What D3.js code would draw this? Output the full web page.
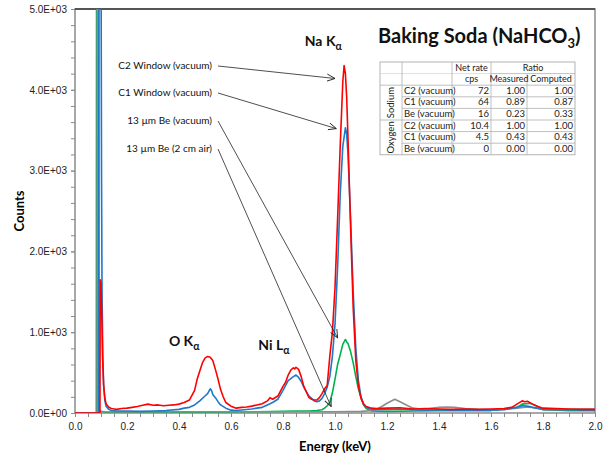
<!DOCTYPE html>
<html lang="en">
<head>
<meta charset="utf-8">
<script src="https://cdn.jsdelivr.net/npm/d3@7"></script>
<style>
  body { margin: 0; background: #fff; }
  svg { font-family: Lato, "Open Sans", sans-serif; }
  .tick text { font-size: 10px; fill: #222; }
  .line { fill: none; stroke-width: 1.6; stroke-linejoin: round; }
</style>
</head>
<body>
<div id="chart"></div>
<script>
// spectra: [energy keV, counts]
var c2Vacuum = [[0,0],[0.096,0],[0.097,1650],[0.1,1620],[0.103,1200],[0.106,700],[0.11,350],[0.115,180],[0.12,110],[0.13,70],[0.14,55],[0.15,50],[0.16,45],[0.18,55],[0.2,60],[0.22,70],[0.24,80],[0.26,95],[0.28,110],[0.3,95],[0.32,100],[0.34,90],[0.36,95],[0.38,100],[0.4,110],[0.42,130],[0.44,160],[0.46,280],[0.47,420],[0.48,520],[0.49,620],[0.5,680],[0.51,700],[0.52,690],[0.53,650],[0.54,540],[0.55,420],[0.56,290],[0.57,200],[0.58,130],[0.6,85],[0.62,60],[0.64,70],[0.66,75],[0.68,85],[0.7,100],[0.72,115],[0.74,150],[0.75,190],[0.76,170],[0.78,210],[0.8,330],[0.81,380],[0.82,470],[0.83,530],[0.84,560],[0.845,545],[0.85,565],[0.86,540],[0.87,450],[0.88,330],[0.89,260],[0.9,190],[0.91,170],[0.92,160],[0.93,160],[0.94,190],[0.95,240],[0.96,300],[0.97,340],[0.98,700],[0.99,1000],[1.0,1550],[1.01,2400],[1.02,3300],[1.03,4100],[1.035,4300],[1.04,4200],[1.045,3900],[1.05,3400],[1.06,2300],[1.07,1300],[1.08,650],[1.09,330],[1.1,180],[1.11,110],[1.12,80],[1.14,60],[1.16,55],[1.2,60],[1.25,65],[1.3,50],[1.35,55],[1.4,50],[1.45,45],[1.5,50],[1.55,45],[1.6,50],[1.65,55],[1.68,70],[1.7,110],[1.72,150],[1.73,140],[1.74,145],[1.76,110],[1.78,80],[1.8,60],[1.85,55],[1.9,50],[1.95,45],[2.0,45]];

var c1Vacuum = [[0,0],[0.091,0],[0.092,6000],[0.1,6000],[0.102,3000],[0.104,1500],[0.107,700],[0.11,350],[0.115,150],[0.12,80],[0.13,45],[0.14,30],[0.16,25],[0.2,25],[0.25,20],[0.3,25],[0.35,30],[0.4,45],[0.42,60],[0.44,70],[0.46,100],[0.48,150],[0.5,210],[0.51,240],[0.52,300],[0.525,280],[0.53,230],[0.54,190],[0.55,140],[0.56,100],[0.58,60],[0.6,35],[0.62,30],[0.65,40],[0.68,50],[0.7,60],[0.72,70],[0.74,100],[0.76,130],[0.78,170],[0.8,280],[0.82,400],[0.84,450],[0.85,470],[0.86,440],[0.87,390],[0.88,320],[0.89,260],[0.9,210],[0.91,180],[0.92,150],[0.93,140],[0.94,150],[0.95,180],[0.96,240],[0.97,320],[0.98,450],[0.99,700],[1.0,1100],[1.01,1800],[1.02,2700],[1.03,3300],[1.04,3530],[1.045,3450],[1.05,3200],[1.06,2400],[1.07,1500],[1.08,800],[1.09,400],[1.1,200],[1.11,110],[1.12,70],[1.14,45],[1.16,40],[1.2,45],[1.25,50],[1.3,40],[1.35,35],[1.4,40],[1.45,35],[1.5,35],[1.6,35],[1.65,40],[1.7,70],[1.72,90],[1.74,85],[1.76,70],[1.8,45],[1.9,40],[2.0,35]];

var beVacuum = [[0,0],[0.082,0],[0.083,6000],[0.088,6000],[0.089,30],[0.1,20],[0.12,10],[0.2,8],[0.3,10],[0.4,8],[0.5,10],[0.6,12],[0.7,15],[0.8,20],[0.85,25],[0.9,25],[0.93,30],[0.95,40],[0.96,60],[0.97,90],[0.98,130],[0.99,250],[1.0,420],[1.01,600],[1.02,720],[1.03,850],[1.04,910],[1.045,880],[1.05,860],[1.06,760],[1.07,620],[1.08,450],[1.09,300],[1.1,190],[1.11,100],[1.12,55],[1.14,25],[1.2,20],[1.3,25],[1.4,30],[1.5,30],[1.6,30],[1.7,70],[1.72,110],[1.75,120],[1.78,80],[1.8,40],[1.9,30],[2.0,30]];

var beAir = [[0,0],[0.085,0],[0.086,6000],[0.091,6000],[0.093,40],[0.1,15],[0.2,12],[0.4,15],[0.6,15],[0.8,15],[1.0,15],[1.1,20],[1.15,30],[1.18,80],[1.2,120],[1.23,170],[1.25,140],[1.28,90],[1.3,60],[1.33,50],[1.36,55],[1.4,70],[1.43,75],[1.46,70],[1.5,55],[1.55,45],[1.6,40],[1.65,45],[1.7,60],[1.74,75],[1.78,60],[1.8,45],[1.85,40],[1.9,45],[1.95,50],[2.0,50]];

// draw order: green, gray, blue, red
var seriesColors = ["#00b050", "#8c8c8c", "#1f78c8", "#ff0000"];
var seriesData = [beVacuum, beAir, c1Vacuum, c2Vacuum];
// label rows (top to bottom) and the [energy, counts] point each arrow ends at
var labelOrder = ["C2 Window (vacuum)", "C1 Window (vacuum)", "13 \u00b5m Be (vacuum)", "13 \u00b5m Be (2 cm air)"];
var arrowTargets = [[1.0, 4140], [1.005, 3520], [1.01, 930], [0.985, 80]];

var xTicks = [0, 0.2, 0.4, 0.6, 0.8, 1.0, 1.2, 1.4, 1.6, 1.8, 2.0];
var yTicks = [0, 1000, 2000, 3000, 4000, 5000];

// table
var tableElements = ["Sodium", "Oxygen"];
var tableRows = ["C2 (vacuum)", "C1 (vacuum)", "Be (vacuum)", "C2 (vacuum)", "C1 (vacuum)", "Be (vacuum)"];
var netRate = ["72", "64", "16", "10.4", "4.5", "0"];
var measured = ["1.00", "0.89", "0.23", "1.00", "0.43", "0.00"];
var computed = ["1.00", "0.87", "0.33", "1.00", "0.43", "0.00"];

var width = 605, height = 460;
var plot = {left: 75, right: 595, top: 9, bottom: 413};

var svg = d3.select("#chart").append("svg")
  .attr("width", width).attr("height", height);

var x = d3.scaleLinear().domain([0, 2]).range([plot.left, plot.right]);
var y = d3.scaleLinear().domain([0, 5000]).range([plot.bottom, plot.top]);

svg.append("defs").append("clipPath").attr("id", "clip")
  .append("rect").attr("x", plot.left).attr("y", plot.top)
  .attr("width", plot.right - plot.left).attr("height", plot.bottom - plot.top);

// frame
svg.append("rect")
  .attr("x", plot.left).attr("y", plot.top)
  .attr("width", plot.right - plot.left).attr("height", plot.bottom - plot.top)
  .attr("fill", "none").attr("stroke", "#8a8a8a").attr("stroke-width", 1.5);
svg.append("line")
  .attr("x1", plot.left).attr("x2", plot.right).attr("y1", plot.top).attr("y2", plot.top)
  .attr("stroke", "#3a3a3a").attr("stroke-width", 1.5);

// axes
var fmtY = function(d) { return d === 0 ? "0.0E+00" : (d / 1000).toFixed(1) + "E+03"; };
var greyTicks = function(g) { g.select(".domain").remove(); g.selectAll("line").attr("stroke", "#8a8a8a"); };

svg.append("g").attr("transform", "translate(" + plot.left + ",0)")
  .call(d3.axisLeft(y).tickValues(d3.range(0, 5001, 200)).tickSize(4).tickFormat(""))
  .call(greyTicks);
svg.append("g").attr("transform", "translate(" + plot.left + ",0)")
  .call(d3.axisLeft(y).tickValues(yTicks).tickSize(4).tickPadding(4).tickFormat(fmtY))
  .call(greyTicks);

svg.append("g").attr("transform", "translate(0," + plot.bottom + ")")
  .call(d3.axisBottom(x).tickValues(d3.range(0, 41).map(function(i) { return i * 0.05; })).tickSize(4).tickFormat(""))
  .call(greyTicks);
svg.append("g").attr("transform", "translate(0," + plot.bottom + ")")
  .call(d3.axisBottom(x).tickValues(xTicks).tickSize(4).tickPadding(6).tickFormat(d3.format(".1f")))
  .call(greyTicks);

svg.append("text")
  .attr("transform", "translate(24," + ((plot.top + plot.bottom) / 2) + ") rotate(-90)")
  .attr("text-anchor", "middle").style("font-size", "13px").style("font-weight", "bold")
  .text("Counts");
svg.append("text")
  .attr("x", (plot.left + plot.right) / 2).attr("y", 451)
  .attr("text-anchor", "middle").style("font-size", "13px").style("font-weight", "bold")
  .text("Energy (keV)");

// spectra
var line = d3.line().x(function(d) { return x(d[0]); }).y(function(d) { return y(d[1]); });
svg.append("g").attr("clip-path", "url(#clip)")
  .selectAll("path").data(seriesData).enter().append("path")
  .attr("class", "line")
  .attr("stroke", function(d, i) { return seriesColors[i]; })
  .attr("d", line);

// labels with arrows
svg.select("defs").append("marker")
  .attr("id", "arrow").attr("viewBox", "0 0 10 10").attr("refX", 9).attr("refY", 5)
  .attr("markerWidth", 9).attr("markerHeight", 9).attr("orient", "auto")
  .attr("markerUnits", "userSpaceOnUse")
  .append("path").attr("d", "M0,1 L9,5 L0,9").attr("fill", "none")
  .attr("stroke", "#222").attr("stroke-width", 1);

var labelY = [69, 96, 124, 152];
var lab = svg.append("g");
labelOrder.forEach(function(n, i) {
  lab.append("text").attr("x", 212).attr("y", labelY[i]).attr("text-anchor", "end")
    .style("font-size", "10px").attr("fill", "#111").text(n);
  lab.append("line").attr("x1", 218).attr("y1", labelY[i] - 3)
    .attr("x2", x(arrowTargets[i][0])).attr("y2", y(arrowTargets[i][1]))
    .attr("stroke", "#222").attr("stroke-width", 0.8).attr("marker-end", "url(#arrow)");
});

// peak annotations
function peakLabel(px, py, main, size) {
  var t = svg.append("text").attr("x", px).attr("y", py).attr("text-anchor", "middle")
    .style("font-size", size + "px").style("font-weight", "bold").attr("fill", "#111");
  t.append("tspan").text(main);
  t.append("tspan").attr("dy", 4).style("font-size", (size * 0.75) + "px").text("\u03b1");
}
peakLabel(x(0.955), 46, "Na K", 14);
peakLabel(x(0.42), 346, "O K", 14);
peakLabel(x(0.765), 350, "Ni L", 14);

var title = svg.append("text").attr("x", 378).attr("y", 43)
  .style("font-size", "20px").style("font-weight", "bold").attr("fill", "#111");
title.append("tspan").text("Baking Soda (NaHCO");
title.append("tspan").attr("dy", 5).style("font-size", "13px").text("3");
title.append("tspan").attr("dy", -5).text(")");

// table: 2 header rows + 6 data rows
var colX = [380, 402, 452, 491, 527, 575];
var rowY = d3.range(9).map(function(k) { return 62 + k * 11.6; });
var tbl = svg.append("g").style("font-size", "9.5px").attr("fill", "#222");
tbl.append("rect").attr("x", colX[0]).attr("y", rowY[0])
  .attr("width", colX[5] - colX[0]).attr("height", rowY[8] - rowY[0])
  .attr("fill", "#fff").attr("stroke", "#a0a0a0").attr("stroke-width", 0.8);
function hline(x1, x2, yy, c) {
  tbl.append("line").attr("x1", x1).attr("x2", x2).attr("y1", yy).attr("y2", yy)
    .attr("stroke", c).attr("stroke-width", 0.8);
}
hline(colX[0], colX[3], rowY[1], "#d8d8d8");
hline(colX[3], colX[5], rowY[1], "#b0b0b0");
[2, 5].forEach(function(k) { hline(colX[0], colX[5], rowY[k], "#b0b0b0"); });
[3, 4, 6, 7].forEach(function(k) { hline(colX[1], colX[5], rowY[k], "#b0b0b0"); });
colX.slice(1, 5).forEach(function(cx, i) {
  var y0 = (i === 3) ? rowY[1] : rowY[0];
  tbl.append("line").attr("x1", cx).attr("x2", cx).attr("y1", y0).attr("y2", rowY[8])
    .attr("stroke", "#b0b0b0").attr("stroke-width", 0.8);
});
var head = tbl.append("g").style("font-size", "9px");
head.append("text").attr("x", (colX[2] + colX[3]) / 2).attr("y", rowY[1] - 3)
  .attr("text-anchor", "middle").text("Net rate");
head.append("text").attr("x", (colX[3] + colX[5]) / 2).attr("y", rowY[1] - 3)
  .attr("text-anchor", "middle").text("Ratio");
head.append("text").attr("x", (colX[2] + colX[3]) / 2).attr("y", rowY[2] - 3)
  .attr("text-anchor", "middle").text("cps");
head.append("text").attr("x", (colX[3] + colX[4]) / 2).attr("y", rowY[2] - 3)
  .attr("text-anchor", "middle").text("Measured");
head.append("text").attr("x", (colX[4] + colX[5]) / 2).attr("y", rowY[2] - 3)
  .attr("text-anchor", "middle").text("Computed");
tableElements.forEach(function(el, k) {
  var cy = (rowY[2 + k * 3] + rowY[5 + k * 3]) / 2;
  tbl.append("text").attr("transform", "translate(" + ((colX[0] + colX[1]) / 2 + 3) + "," + cy + ") rotate(-90)")
    .attr("text-anchor", "middle").text(el);
});
tableRows.forEach(function(r, i) {
  var by = rowY[i + 3] - 3;
  tbl.append("text").attr("x", colX[1] + 2).attr("y", by).text(r);
  tbl.append("text").attr("x", colX[3] - 2).attr("y", by).attr("text-anchor", "end").text(netRate[i]);
  tbl.append("text").attr("x", colX[4] - 2).attr("y", by).attr("text-anchor", "end").text(measured[i]);
  tbl.append("text").attr("x", colX[5] - 2).attr("y", by).attr("text-anchor", "end").text(computed[i]);
});
</script>
</body>
</html>
